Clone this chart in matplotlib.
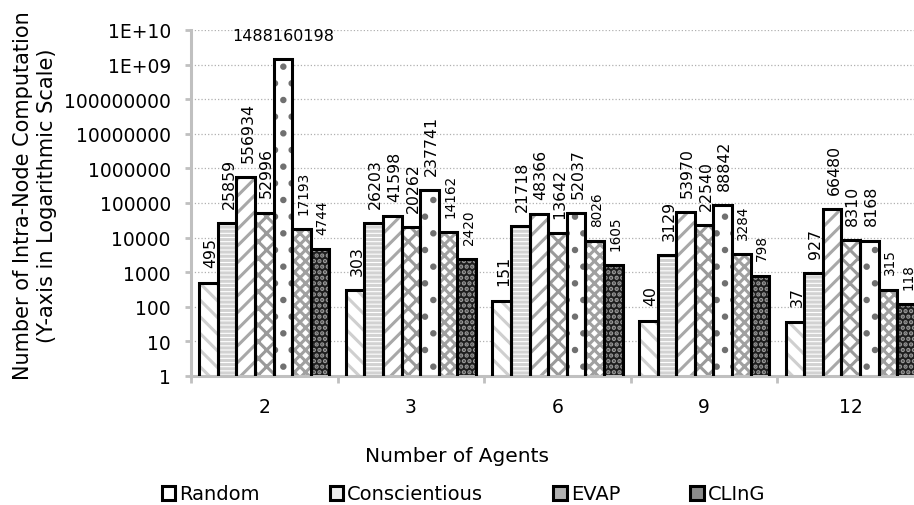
import matplotlib
matplotlib.use("Agg")
import matplotlib.pyplot as plt
import matplotlib.ticker as mticker
from matplotlib.patches import Patch
import numpy as np

plt.rcParams["font.family"] = ["DejaVu Sans"]
plt.rcParams["hatch.linewidth"] = 2.2

agents = ["2", "3", "6", "9", "12"]
series_names = ["Random", "Conscientious", "EVAP", "CLInG", "Series 5", "Series 6", "Series 7"]
random_vals = [495, 303, 151, 40, 37]
conscientious_vals = [25859, 26203, 21718, 3129, 927]
evap_vals = [556934, 41598, 48366, 53970, 66480]
cling_vals = [52996, 20262, 13642, 22540, 8310]
series5_vals = [1488160198, 237741, 52037, 88842, 8168]
series6_vals = [17193, 14162, 8026, 3284, 315]
series7_vals = [4744, 2420, 1605, 798, 118]
all_vals = [random_vals, conscientious_vals, evap_vals, cling_vals,
            series5_vals, series6_vals, series7_vals]

# (face, hatch, hatch colour, label size, legend face)
styles = [
    ("white", "\\\\", "#cfcfcf", 11.3, "white"),
    ("white", "----", "#d2d2d2", 11.3, "#eeeeee"),
    ("white", "//", "#a8a8a8", 11.3, "#b0b0b0"),
    ("white", "xx", "#9a9a9a", 11.3, "#8a8a8a"),
    ("white", ".", "#707070", 11.3, "white"),
    ("white", "xxx", "#a0a0a0", 9.8, "#909090"),
    ("#1e1e1e", "...", "#9a9a9a", 9.8, "#333333"),
]

fig = plt.figure(figsize=(9.14, 5.06), dpi=100)
ax = fig.add_axes([191 / 914, 1 - 377 / 506, (924 - 191) / 914, (377 - 31) / 506])

x = np.arange(len(agents))
w = 0.127
handles = []
for j, vals in enumerate(all_vals):
    face, hatch, hcol, fs, lface = styles[j]
    pos = x + (j - 3) * w
    ax.bar(pos, vals, w, color=face, hatch=hatch, edgecolor=hcol, linewidth=0, zorder=2)
    ax.bar(pos, vals, w, fill=False, edgecolor="black", linewidth=2.2, zorder=3)
    for px, v in zip(pos, vals):
        if v > 1e9:
            ax.annotate(str(v), (px, v), xytext=(0, 11), textcoords="offset points",
                        ha="center", va="bottom", fontsize=11.5, zorder=4)
        else:
            ax.annotate(str(v), (px, v), xytext=(1.5, 11), textcoords="offset points",
                        ha="center", va="bottom", rotation=90, fontsize=fs, zorder=4)
    handles.append(Patch(facecolor=lface, edgecolor="black", linewidth=2.2))

ax.set_yscale("log")
ax.set_ylim(1, 1e10)
ax.set_xlim(-0.5, len(agents) - 0.5)


def fmt(v, pos):
    if v >= 1e9:
        return "1E+%02d" % int(round(np.log10(v)))
    return "%d" % int(round(v))


ax.yaxis.set_major_locator(mticker.LogLocator(base=10, numticks=20))
ax.yaxis.set_minor_locator(mticker.NullLocator())
ax.yaxis.set_major_formatter(mticker.FuncFormatter(fmt))
ax.set_xticks(x)
ax.set_xticklabels(agents)
ax.set_xticks(np.arange(len(agents) + 1) - 0.5, minor=True)

ax.tick_params(axis="y", labelsize=13.5, length=4.5, width=2, color="#c0c0c0", pad=10)
ax.tick_params(axis="x", which="major", labelsize=13.5, length=0, pad=15)
ax.tick_params(axis="x", which="minor", length=5, width=2, color="#c0c0c0")

ax.grid(axis="y", linestyle=":", color="#b0b0b0", linewidth=0.9, zorder=0)
ax.set_axisbelow(True)
for s in ["top", "right"]:
    ax.spines[s].set_visible(False)
for s in ["left", "bottom"]:
    ax.spines[s].set_color("#c0c0c0")
    ax.spines[s].set_linewidth(2.2)

fig.text(0.5, 1 - 457 / 506, "Number of Agents", ha="center", va="center", fontsize=14.5)
fig.text(35 / 914, 1 - 196 / 506,
         "Number of Intra-Node Computation\n(Y-axis in Logarithmic Scale)",
         rotation=90, ha="center", va="center", fontsize=15, linespacing=1.2)

fig.legend(handles[:4], series_names[:4], loc="center", bbox_to_anchor=(0.507, 1 - 495 / 506),
           ncol=4, frameon=False, fontsize=14, handlelength=0.7, handleheight=0.7,
           handletextpad=0.2, columnspacing=3.6, borderaxespad=0)

fig.savefig("out.png", dpi=100)
